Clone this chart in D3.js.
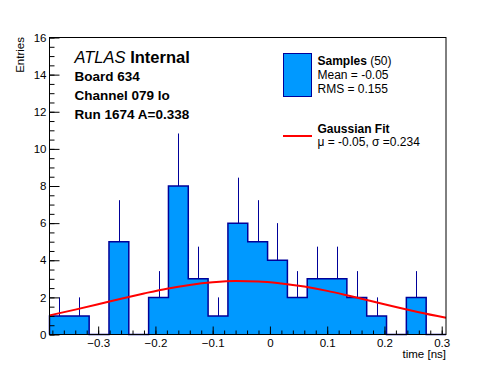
<!DOCTYPE html>
<html>
<head>
<meta charset="utf-8">
<script src="https://cdn.jsdelivr.net/npm/d3@7"></script>
<style>
body { margin: 0; background: white; }
text { font-family: "Liberation Sans", Arial, sans-serif; }
</style>
</head>
<body>
<script>
var g_width = 496
var g_height = 372
var plot = { left: 49.5, right: 446, top: 37.5, bottom: 334.5 }

// histogram: 20 equal bins over the x range
var xRange = [-0.385, 0.3075]
var binCounts = [1, 1, 0, 5, 0, 2, 8, 3, 1, 6, 5, 4, 2, 3, 3, 2, 1, 0, 2, 0]

// gaussian fit curve
var fitX = [-0.385, -0.34, -0.30, -0.26, -0.22, -0.18, -0.14, -0.10, -0.06, -0.02, 0.02, 0.06, 0.10, 0.14, 0.18, 0.22, 0.26, 0.3075]
var fitY = [1.03, 1.34, 1.63, 1.93, 2.21, 2.47, 2.67, 2.81, 2.88, 2.86, 2.75, 2.58, 2.35, 2.07, 1.78, 1.48, 1.20, 0.90]

var xTicks = [-0.3, -0.2, -0.1, 0, 0.1, 0.2, 0.3]
var yTicks = [0, 2, 4, 6, 8, 10, 12, 14, 16]

var labelLines = ["Board 634", "Channel 079 lo", "Run 1674 A=0.338"]
var legendStats = ["Mean = -0.05", "RMS = 0.155"]
var fitLabel = "\u03bc = -0.05, \u03c3 =0.234"

var fillColor = "#0099ff"
var lineColor = "#000099"

var svg = d3.select("body").append("svg")
    .attr("width", g_width)
    .attr("height", g_height)

var xScale = d3.scaleLinear().domain(xRange).range([plot.left, plot.right])
var yScale = d3.scaleLinear().domain([0, 16]).range([plot.bottom, plot.top])

var binWidth = (xRange[1] - xRange[0]) / binCounts.length

// staircase outline of the histogram
var steps = [[xRange[0], 0]]
binCounts.forEach(function (c, i) {
    steps.push([xRange[0] + i * binWidth, c])
    steps.push([xRange[0] + (i + 1) * binWidth, c])
})
steps.push([xRange[1], 0])

svg.append("path")
    .datum(steps)
    .attr("d", d3.line().x(function (d) { return xScale(d[0]) }).y(function (d) { return yScale(d[1]) }))
    .attr("fill", fillColor)
    .attr("stroke", lineColor)
    .attr("stroke-width", 1.5)

// error bars (upper half, lower half sits inside the bar)
svg.append("g").selectAll("line")
    .data(binCounts.map(function (c, i) { return { c: c, x: xRange[0] + (i + 0.5) * binWidth } }).filter(function (d) { return d.c > 0 }))
    .enter().append("line")
    .attr("x1", function (d) { return Math.round(xScale(d.x)) + 0.5 })
    .attr("x2", function (d) { return Math.round(xScale(d.x)) + 0.5 })
    .attr("y1", function (d) { return yScale(d.c) })
    .attr("y2", function (d) { return yScale(d.c + Math.sqrt(d.c)) })
    .attr("stroke", lineColor)
    .attr("stroke-width", 1)

// fit
svg.append("path")
    .datum(fitX.map(function (x, i) { return [x, fitY[i]] }))
    .attr("d", d3.line().curve(d3.curveMonotoneX).x(function (d) { return xScale(d[0]) }).y(function (d) { return yScale(d[1]) }))
    .attr("fill", "none")
    .attr("stroke", "#ff0000")
    .attr("stroke-width", 2)

// axes, ticks point inwards
var xMinor = d3.range(-0.38, 0.3076, 0.02)
var yMinor = d3.range(0, 16.01, 0.5)

svg.append("g")
    .attr("transform", "translate(0," + plot.bottom + ")")
    .call(d3.axisBottom(xScale).tickValues(xMinor).tickSize(-4).tickFormat("").tickSizeOuter(0))
    .call(function (g) { g.select(".domain").remove() })

svg.append("g")
    .attr("transform", "translate(0," + plot.bottom + ")")
    .call(d3.axisBottom(xScale).tickValues(xTicks).tickSize(-8).tickSizeOuter(0).tickPadding(4).tickFormat(d3.format("")))
    .call(function (g) {
        g.select(".domain").remove()
        g.selectAll("text").attr("font-size", 11.5).attr("font-family", "Liberation Sans, Arial, sans-serif").attr("fill", "black")
    })

svg.append("g")
    .attr("transform", "translate(" + plot.left + ",0)")
    .call(d3.axisLeft(yScale).tickValues(yMinor).tickSize(-5).tickFormat("").tickSizeOuter(0))
    .call(function (g) { g.select(".domain").remove() })

svg.append("g")
    .attr("transform", "translate(" + plot.left + ",0)")
    .call(d3.axisLeft(yScale).tickValues(yTicks).tickSize(-10).tickSizeOuter(0).tickPadding(3).tickFormat(d3.format("d")))
    .call(function (g) {
        g.select(".domain").remove()
        g.selectAll("text").attr("font-size", 11.5).attr("font-family", "Liberation Sans, Arial, sans-serif").attr("fill", "black")
    })

svg.append("rect")
    .attr("x", plot.left)
    .attr("y", plot.top)
    .attr("width", plot.right - plot.left)
    .attr("height", plot.bottom - plot.top)
    .attr("fill", "none")
    .attr("stroke", "black")
    .attr("stroke-width", 1)

// axis titles
svg.append("text")
    .attr("transform", "translate(23.5,37) rotate(-90)")
    .attr("text-anchor", "end")
    .attr("font-size", 11.5)
    .text("Entries")

svg.append("text")
    .attr("x", 446)
    .attr("y", 358)
    .attr("text-anchor", "end")
    .attr("font-size", 11.5)
    .text("time [ns]")

// ATLAS label
var atlas = svg.append("text").attr("x", 74.5).attr("y", 63).attr("font-size", 16.5)
atlas.append("tspan").attr("font-style", "italic").text("ATLAS")
atlas.append("tspan").attr("font-weight", "bold").text(" Internal")

labelLines.forEach(function (t, i) {
    svg.append("text")
        .attr("x", 74.5)
        .attr("y", 81 + i * 19)
        .attr("font-size", 13.5)
        .attr("font-weight", "bold")
        .text(t)
})

// legend
svg.append("rect")
    .attr("x", 283.5).attr("y", 53.5)
    .attr("width", 28).attr("height", 43)
    .attr("fill", fillColor)
    .attr("stroke", lineColor)
    .attr("stroke-width", 1)

var samp = svg.append("text").attr("x", 317.5).attr("y", 65).attr("font-size", 12)
samp.append("tspan").attr("font-weight", "bold").text("Samples")
samp.append("tspan").text(" (50)")

legendStats.forEach(function (t, i) {
    svg.append("text")
        .attr("x", 317.5)
        .attr("y", 78.5 + i * 14.5)
        .attr("font-size", 12)
        .text(t)
})

svg.append("line")
    .attr("x1", 283).attr("x2", 312)
    .attr("y1", 136).attr("y2", 136)
    .attr("stroke", "#ff0000")
    .attr("stroke-width", 2)

svg.append("text")
    .attr("x", 317.5).attr("y", 132.5)
    .attr("font-size", 12)
    .attr("font-weight", "bold")
    .text("Gaussian Fit")

svg.append("text")
    .attr("x", 317.5).attr("y", 145.5)
    .attr("font-size", 12)
    .text(fitLabel)
</script>
</body>
</html>
